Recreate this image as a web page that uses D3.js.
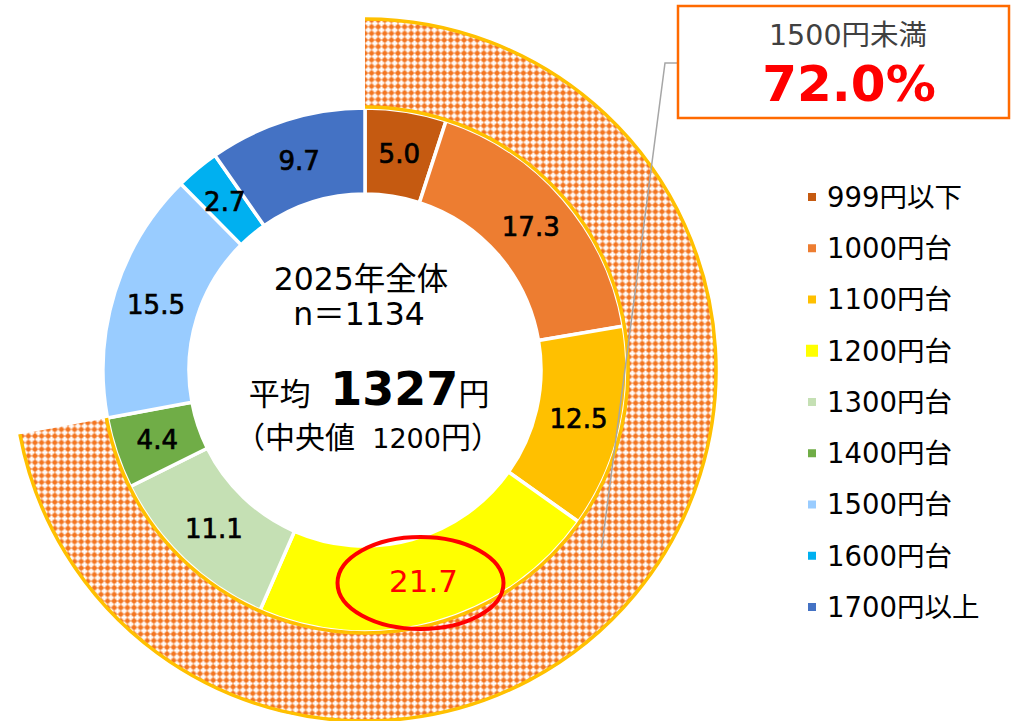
<!DOCTYPE html>
<html>
<head>
<meta charset="utf-8">
<script src="https://cdn.jsdelivr.net/npm/d3@7"></script>
<style>
  body { margin: 0; background: #fff; }
  text { font-family: "DejaVu Sans", "Noto Sans CJK JP", sans-serif; white-space: pre; }
</style>
</head>
<body>
<svg width="1018" height="721"></svg>
<script>
// chart data
var categories = ['999円以下', '1000円台', '1100円台', '1200円台', '1300円台', '1400円台', '1500円台', '1600円台', '1700円以上'];
var shares = [5.0, 17.3, 12.5, 21.7, 11.1, 4.4, 15.5, 2.7, 9.7];
var colors = ['#C55A11', '#ED7D31', '#FFC000', '#FFFF00', '#C5E0B4', '#70AD47', '#99CCFF', '#00B0F0', '#4472C4'];
var highlightIndex = 3;          // 1200円台
var under1500Count = 6;          // first 6 categories = 1500円未満
var under1500Label = '1500円未満';
var under1500Value = '72.0%';
var centerLines = ['2025年全体', 'n＝1134'];
var meanLabel = '平均';
var meanValue = '1327';
var medianParts = ['（中央値', '  1200', '円）'];

function main() {
	var svg = d3.select('svg');
	var cx = 365, cy = 370;
	var rIn = 176, rOut = 262, rRing = 352;

	// crosshatch pattern for the 1500円未満 ring
	var defs = svg.append('defs');
	var s = 6.6, c = s / 2;
	var pat = defs.append('pattern')
		.attr('id', 'hatch')
		.attr('patternUnits', 'userSpaceOnUse')
		.attr('width', s).attr('height', s);
	pat.append('rect').attr('width', s).attr('height', s).attr('fill', '#F3741F');
	pat.append('circle').attr('cx', c).attr('cy', c).attr('r', 2.7).attr('fill', '#F8A872');
	pat.append('rect').attr('x', c - 1).attr('y', c - 2.8).attr('width', 2).attr('height', 5.6).attr('fill', '#fff');
	pat.append('rect').attr('x', c - 2.8).attr('y', c - 1).attr('width', 5.6).attr('height', 2).attr('fill', '#fff');

	var g = svg.append('g').attr('transform', 'translate(' + cx + ',' + cy + ')');

	var pie = d3.pie().sort(null).value(function(d) { return d; });
	var arcs = pie(shares);
	var ringEnd = arcs[under1500Count - 1].endAngle;

	// outer hatched ring
	var ringArc = d3.arc().innerRadius(rOut).outerRadius(rRing).startAngle(0).endAngle(ringEnd);
	g.append('path').attr('d', ringArc()).attr('fill', 'url(#hatch)');

	// donut
	var arc = d3.arc().innerRadius(rIn).outerRadius(rOut);
	g.selectAll('.seg')
		.data(arcs)
		.enter().append('path')
		.attr('class', 'seg')
		.attr('d', arc)
		.attr('fill', function(d, i) { return colors[i]; })
		.attr('stroke', '#fff')
		.attr('stroke-width', 3.5)
		.attr('stroke-linejoin', 'miter');

	// gold edges of the ring
	var edge = d3.arc().startAngle(0).endAngle(ringEnd);
	[rRing - 1, rOut + 1].forEach(function(r) {
		g.append('path')
			.attr('d', edge.innerRadius(r).outerRadius(r)())
			.attr('fill', 'none')
			.attr('stroke', '#FFC000')
			.attr('stroke-width', 3.5);
	});

	// segment labels
	var label = d3.arc().innerRadius(rIn).outerRadius(rOut);
	g.selectAll('.lbl')
		.data(arcs)
		.enter().append('text')
		.attr('class', 'lbl')
		.attr('transform', function(d) { return 'translate(' + label.centroid(d) + ')'; })
		.attr('text-anchor', 'middle')
		.attr('dy', '0.36em')
		.attr('font-size', function(d, i) { return i === highlightIndex ? 31 : 26; })
		.attr('fill', function(d, i) { return i === highlightIndex ? '#FF0000' : '#000'; })
		.attr('stroke', function(d, i) { return i === highlightIndex ? 'none' : '#000'; })
		.attr('stroke-width', 0.7)
		.text(function(d) { return d3.format('.1f')(d.data); });

	// red ellipse around highlighted value
	var hc = label.centroid(arcs[highlightIndex]);
	g.append('ellipse')
		.attr('cx', hc[0] - 3).attr('cy', hc[1] + 2)
		.attr('rx', 83).attr('ry', 46)
		.attr('fill', 'none')
		.attr('stroke', '#FF0000')
		.attr('stroke-width', 4);

	// center text
	g.append('text').attr('text-anchor', 'middle').attr('x', -4).attr('y', -80).attr('font-size', 31.5).text(centerLines[0]);
	g.append('text').attr('text-anchor', 'middle').attr('x', -6).attr('y', -45).attr('font-size', 31.5).text(centerLines[1]);
	var mean = g.append('text').attr('text-anchor', 'middle').attr('x', 4).attr('y', 35);
	mean.append('tspan').attr('font-size', 31).text(meanLabel + '  ');
	mean.append('tspan').attr('font-size', 46).attr('font-weight', 'bold').text(meanValue);
	mean.append('tspan').attr('font-size', 31).text('円');
	var med = g.append('text').attr('text-anchor', 'middle').attr('x', 3).attr('y', 78);
	med.selectAll('tspan')
		.data(medianParts)
		.enter().append('tspan')
		.attr('font-size', function(d, i) { return i === 1 ? 27 : 30; })
		.text(function(d) { return d; });

	// callout leader line
	var la = (126.9 / 180) * Math.PI, lr = 296;
	var p0 = [cx + lr * Math.sin(la), cy - lr * Math.cos(la)];
	svg.append('polyline')
		.attr('points', [p0, [665, 63], [677, 63]].map(function(p) { return p.join(','); }).join(' '))
		.attr('fill', 'none')
		.attr('stroke', '#A6A6A6')
		.attr('stroke-width', 1.5);

	// callout box
	svg.append('rect')
		.attr('x', 678).attr('y', 6).attr('width', 331).attr('height', 112)
		.attr('fill', '#fff')
		.attr('stroke', '#FF6A00')
		.attr('stroke-width', 2.5);
	svg.append('text').attr('x', 848).attr('y', 45).attr('text-anchor', 'middle')
		.attr('font-size', 28.5).attr('fill', '#404040').text(under1500Label);
	svg.append('text').attr('x', 849).attr('y', 101).attr('text-anchor', 'middle')
		.attr('font-size', 50).attr('font-weight', 'bold').attr('fill', '#FF0000').text(under1500Value);

	// legend
	var ly = d3.scalePoint().domain(categories).range([197, 607]);
	var leg = svg.selectAll('.leg')
		.data(categories)
		.enter().append('g')
		.attr('class', 'leg')
		.attr('transform', function(d) { return 'translate(0,' + ly(d) + ')'; });
	leg.append('rect')
		.attr('x', function(d, i) { return i === highlightIndex ? 806 : 808; })
		.attr('y', function(d, i) { return i === highlightIndex ? -6 : -4; })
		.attr('width', function(d, i) { return i === highlightIndex ? 12 : 8; })
		.attr('height', function(d, i) { return i === highlightIndex ? 12 : 8; })
		.attr('fill', function(d, i) { return colors[i]; });
	leg.append('text')
		.attr('x', 827)
		.attr('dy', '0.36em')
		.attr('font-size', 27.5)
		.attr('fill', '#000')
		.text(function(d) { return d; });
}
main();
</script>
</body>
</html>
